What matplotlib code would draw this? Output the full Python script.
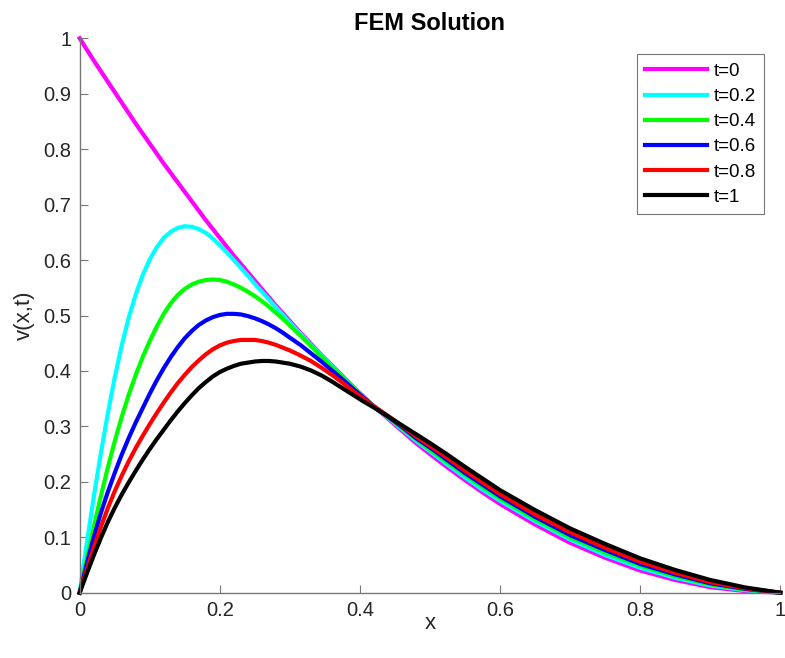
import numpy as np
import matplotlib
matplotlib.use("Agg")
import matplotlib.pyplot as plt
from matplotlib.ticker import FormatStrFormatter

# - - - - values - - -
x = [0.00, 0.01, 0.02, 0.03, 0.04, 0.05, 0.06, 0.07, 0.08, 0.09,
     0.10, 0.11, 0.12, 0.13, 0.14, 0.15, 0.16, 0.17, 0.18, 0.19,
     0.20, 0.21, 0.22, 0.23, 0.24, 0.25, 0.26, 0.27, 0.28, 0.29,
     0.30, 0.315, 0.33, 0.345, 0.36, 0.375, 0.39, 0.405, 0.42, 0.44,
     0.46, 0.48, 0.50, 0.525, 0.55, 0.575, 0.60, 0.65, 0.70, 0.75,
     0.80, 0.85, 0.90, 0.95, 1.00]

v_t0 = [1.000, 0.980, 0.960, 0.941, 0.922, 0.903, 0.884, 0.865, 0.846, 0.828,
        0.810, 0.792, 0.774, 0.757, 0.740, 0.723, 0.706, 0.689, 0.672, 0.656,
        0.640, 0.624, 0.608, 0.593, 0.578, 0.563, 0.548, 0.533, 0.518, 0.504,
        0.490, 0.469, 0.449, 0.429, 0.410, 0.391, 0.372, 0.354, 0.336, 0.314,
        0.292, 0.270, 0.250, 0.226, 0.203, 0.181, 0.160, 0.123, 0.090, 0.063,
        0.040, 0.023, 0.010, 0.003, 0.000]
v_t02 = [0.000, 0.088, 0.172, 0.250, 0.322, 0.388, 0.446, 0.496, 0.538, 0.573,
         0.601, 0.623, 0.640, 0.651, 0.658, 0.661, 0.660, 0.656, 0.649, 0.639,
         0.627, 0.614, 0.600, 0.586, 0.572, 0.557, 0.543, 0.529, 0.515, 0.501,
         0.487, 0.467, 0.447, 0.428, 0.409, 0.390, 0.371, 0.353, 0.336, 0.316,
         0.295, 0.274, 0.255, 0.231, 0.208, 0.186, 0.166, 0.129, 0.096, 0.068,
         0.045, 0.027, 0.013, 0.0045, 0.000]
v_t04 = [0.000, 0.060, 0.118, 0.173, 0.225, 0.273, 0.317, 0.357, 0.393, 0.425,
         0.454, 0.480, 0.503, 0.522, 0.537, 0.548, 0.556, 0.561, 0.564, 0.565,
         0.564, 0.561, 0.556, 0.550, 0.543, 0.535, 0.526, 0.516, 0.505, 0.494,
         0.482, 0.464, 0.445, 0.426, 0.407, 0.389, 0.370, 0.353, 0.336, 0.317,
         0.297, 0.277, 0.258, 0.235, 0.213, 0.191, 0.170, 0.133, 0.100, 0.073,
         0.049, 0.030, 0.015, 0.006, 0.000]
v_t06 = [0.000, 0.052, 0.100, 0.143, 0.181, 0.216, 0.249, 0.279, 0.307, 0.333,
         0.359, 0.383, 0.405, 0.425, 0.443, 0.459, 0.472, 0.483, 0.491, 0.497,
         0.501, 0.503, 0.503, 0.502, 0.499, 0.495, 0.490, 0.484, 0.477, 0.469,
         0.460, 0.447, 0.432, 0.417, 0.401, 0.385, 0.368, 0.352, 0.336, 0.318,
         0.299, 0.279, 0.262, 0.239, 0.216, 0.195, 0.174, 0.137, 0.104, 0.077,
         0.052, 0.033, 0.017, 0.007, 0.000]
v_t08 = [0.000, 0.041, 0.081, 0.118, 0.152, 0.183, 0.211, 0.237, 0.261, 0.283,
         0.304, 0.324, 0.343, 0.361, 0.378, 0.393, 0.407, 0.419, 0.430, 0.439,
         0.446, 0.451, 0.454, 0.456, 0.456, 0.456, 0.454, 0.451, 0.447, 0.442,
         0.437, 0.428, 0.418, 0.406, 0.393, 0.379, 0.364, 0.350, 0.336, 0.319,
         0.301, 0.282, 0.265, 0.243, 0.220, 0.199, 0.178, 0.141, 0.109, 0.081,
         0.056, 0.036, 0.019, 0.008, 0.000]
v_t1 = [0.000, 0.034, 0.067, 0.098, 0.127, 0.153, 0.177, 0.199, 0.220, 0.240,
        0.259, 0.277, 0.294, 0.311, 0.327, 0.342, 0.356, 0.369, 0.380, 0.390,
        0.398, 0.404, 0.409, 0.413, 0.415, 0.417, 0.418, 0.418, 0.417, 0.415,
        0.413, 0.408, 0.401, 0.392, 0.381, 0.369, 0.357, 0.345, 0.334, 0.318,
        0.302, 0.286, 0.270, 0.249, 0.227, 0.206, 0.185, 0.149, 0.116, 0.088,
        0.062, 0.041, 0.023, 0.0095, 0.000]

series = [v_t0, v_t02, v_t04, v_t06, v_t08, v_t1]
labels = ["t=0", "t=0.2", "t=0.4", "t=0.6", "t=0.8", "t=1"]
colors = ["#ff00ff", "#00ffff", "#00ff00", "#0000ff", "#ff0000", "#000000"]

plt.rcParams['font.family'] = ['Liberation Sans', 'DejaVu Sans']
axcol = "#262626"


def main():
    fig = plt.figure(figsize=(7.85, 6.58), dpi=100)
    ax = fig.add_axes([0.1015, 0.0992, 0.8925, 0.8426])

    for v, lab, c in zip(series, labels, colors):
        ax.plot(x, v, color=c, linewidth=3, label=lab, clip_on=False,
                solid_joinstyle='round')

    ax.set_xlim(0, 1)
    ax.set_ylim(0, 1)
    ax.set_xticks(np.arange(0, 1.01, 0.2))
    ax.set_yticks(np.arange(0, 1.01, 0.1))
    ax.xaxis.set_major_formatter(FormatStrFormatter('%g'))
    ax.yaxis.set_major_formatter(FormatStrFormatter('%g'))
    ax.tick_params(direction='in', length=6, width=0.8, colors='#777777',
                   labelcolor=axcol, labelsize=14.5, pad=6)

    for s in ['top', 'right']:
        ax.spines[s].set_visible(False)
    for s in ['left', 'bottom']:
        ax.spines[s].set_color('#777777')
        ax.spines[s].set_linewidth(1.0)

    ax.set_xlabel("x", fontsize=16, color=axcol, labelpad=-5)
    ax.set_ylabel("v(x,t)", fontsize=16, color=axcol, labelpad=6)
    ax.set_title("FEM Solution", fontsize=17, fontweight='bold', color='black', pad=6)

    leg = ax.legend(loc='upper right', bbox_to_anchor=(0.977, 0.971),
                    borderaxespad=0, fontsize=13.5, handlelength=3.3,
                    handletextpad=0.35, labelspacing=0.43, fancybox=False,
                    framealpha=1, borderpad=0.45)
    leg.get_frame().set_edgecolor('#777777')
    leg.get_frame().set_linewidth(0.8)

    fig.savefig("out.png", dpi=100)


if __name__ == '__main__':
    main()
